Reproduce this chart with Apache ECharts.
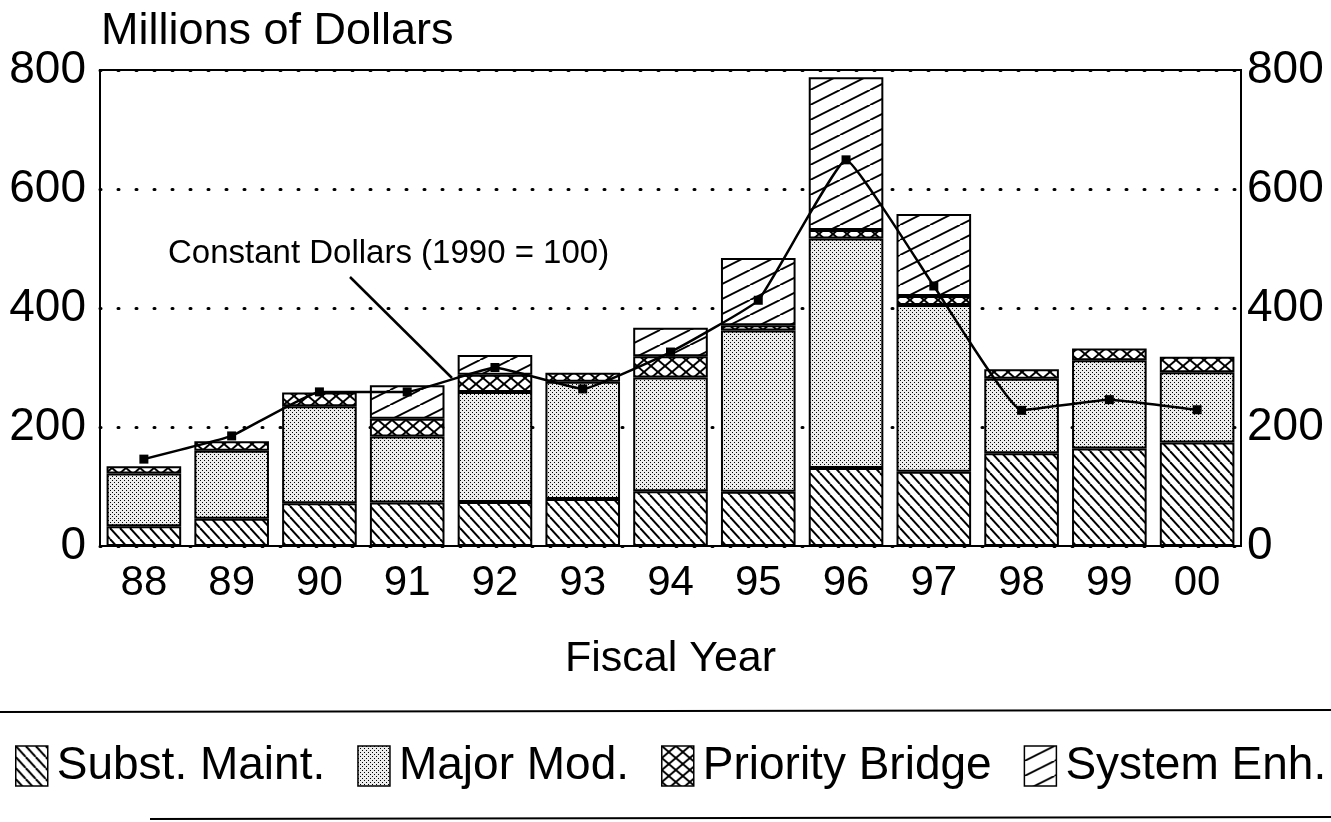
<!DOCTYPE html>
<html>
<head>
<meta charset="utf-8">
<script src="https://cdn.jsdelivr.net/npm/echarts@6/dist/echarts.min.js"></script>
<style>
  html, body { margin: 0; padding: 0; background: #fff; }
  #chart { width: 1331px; height: 822px; }
</style>
</head>
<body>
<div id="chart"></div>
<script>
// fiscal years
const years = ["88", "89", "90", "91", "92", "93", "94", "95", "96", "97", "98", "99", "00"];
// millions of dollars, stacked
const substMaint = [33, 46, 72, 73, 74, 79, 92, 91, 131, 125, 156, 164, 174];
const majorMod = [89, 114, 163, 111, 185, 197, 191, 271, 386, 280, 125, 148, 118];
const priorityBridge = [12, 16, 23, 30, 29, 15, 36, 9, 14, 15, 16, 20, 26];
const systemEnh = [null, null, null, 56, 33, null, 48, 113, 257, 138, null, null, null];
// constant dollars (1990 = 100)
const constantDollars = [146, 185, 259, 259, 300, 264, 326, 413, 649, 437, 228, 246, 229];
const yTicks = [0, 200, 400, 600, 800];

const FONT = "Liberation Sans";

// hatch patterns drawn on small canvases
function lines(w, h, dir, lw) {
  const c = document.createElement("canvas");
  c.width = w; c.height = h;
  const ctx = c.getContext("2d");
  ctx.fillStyle = "#fff";
  ctx.fillRect(0, 0, w, h);
  ctx.strokeStyle = "#000";
  ctx.lineWidth = lw;
  for (const d of dir) {
    for (let k = -1; k <= 1; k++) {
      ctx.beginPath();
      if (d === "back") {
        ctx.moveTo(k * w, 0);
        ctx.lineTo(k * w + w, h);
      } else {
        ctx.moveTo(k * w, h);
        ctx.lineTo(k * w + w, 0);
      }
      ctx.stroke();
    }
  }
  return c;
}

function dots() {
  const c = document.createElement("canvas");
  c.width = 4; c.height = 4;
  const ctx = c.getContext("2d");
  ctx.fillStyle = "#ececec";
  ctx.fillRect(0, 0, 4, 4);
  ctx.fillStyle = "#000";
  ctx.fillRect(0, 0, 1, 1);
  ctx.fillRect(2, 2, 1, 1);
  return c;
}

const pat = (canvas) => ({ image: canvas, repeat: "repeat" });
const substFill = pat(lines(10, 11, ["back"], 2));
const majorFill = pat(dots());
const priorityFill = pat(lines(14, 12, ["back", "fwd"], 2));
const systemFill = pat(lines(30, 15, ["fwd"], 2));

function barSeries(name, data, fill) {
  return {
    name: name,
    type: "bar",
    stack: "total",
    data: data,
    barCategoryGap: "15%",
    itemStyle: { color: fill, borderColor: "#000", borderWidth: 2 },
    emphasis: { disabled: true }
  };
}

const chart = echarts.init(document.getElementById("chart"));

chart.setOption({
  animation: false,
  backgroundColor: "#fff",
  textStyle: { fontFamily: FONT, color: "#000" },
  title: {
    text: "Millions of Dollars",
    left: 96,
    top: 4,
    textStyle: { fontFamily: FONT, fontSize: 45, fontWeight: "normal", color: "#000" }
  },
  grid: {
    left: 100,
    right: 90,
    top: 70,
    bottom: 276,
    show: true,
    borderColor: "#000",
    borderWidth: 2,
    backgroundColor: "transparent"
  },
  legend: {
    data: ["Subst. Maint.", "Major Mod.", "Priority Bridge", "System Enh."],
    left: 15,
    top: 743,
    width: 1316,
    padding: 0,
    icon: "rect",
    itemWidth: 32,
    itemHeight: 40,
    itemGap: 32,
    selectedMode: false,
    itemStyle: { borderColor: "#000", borderWidth: 1.5 },
    textStyle: { fontFamily: FONT, fontSize: 46, color: "#000", padding: [0, 0, 0, 4] }
  },
  xAxis: {
    type: "category",
    data: years,
    axisLine: { lineStyle: { color: "#000", width: 2 } },
    axisTick: { show: false },
    axisLabel: { fontFamily: FONT, fontSize: 42, color: "#000", margin: 16 },
    name: "Fiscal Year",
    nameLocation: "middle",
    nameGap: 92,
    nameTextStyle: { fontFamily: FONT, fontSize: 43, color: "#000" }
  },
  yAxis: [
    {
      type: "value",
      min: yTicks[0],
      max: yTicks[yTicks.length - 1],
      interval: yTicks[1] - yTicks[0],
      axisLine: { show: true, lineStyle: { color: "#000", width: 2 } },
      axisTick: { show: false },
      axisLabel: { fontFamily: FONT, fontSize: 46, color: "#000", margin: 14 },
      splitLine: {
        show: true,
        lineStyle: { color: "#000", width: 3, type: [1, 17], cap: "round" }
      }
    },
    {
      type: "value",
      position: "right",
      min: yTicks[0],
      max: yTicks[yTicks.length - 1],
      interval: yTicks[1] - yTicks[0],
      axisLine: { show: true, lineStyle: { color: "#000", width: 2 } },
      axisTick: { show: false },
      axisLabel: { fontFamily: FONT, fontSize: 46, color: "#000", margin: 6 },
      splitLine: { show: false }
    }
  ],
  series: [
    barSeries("Subst. Maint.", substMaint, substFill),
    barSeries("Major Mod.", majorMod, majorFill),
    barSeries("Priority Bridge", priorityBridge, priorityFill),
    barSeries("System Enh.", systemEnh, systemFill),
    {
      name: "Constant Dollars (1990 = 100)",
      type: "line",
      data: constantDollars,
      smooth: 0.1,
      symbol: "rect",
      symbolSize: 9,
      z: 5,
      lineStyle: { color: "#000", width: 2.5 },
      itemStyle: { color: "#000" },
      emphasis: { disabled: true }
    }
  ],
  graphic: [
    {
      type: "text",
      left: 168,
      top: 237,
      style: { text: "Constant Dollars (1990 = 100)", font: "33px " + FONT, fill: "#000" }
    },
    {
      type: "line",
      shape: { x1: 350, y1: 277, x2: 452, y2: 378 },
      style: { stroke: "#000", lineWidth: 2.5 }
    },
    {
      type: "line",
      shape: { x1: 0, y1: 712, x2: 1331, y2: 710 },
      style: { stroke: "#000", lineWidth: 2 }
    },
    {
      type: "line",
      shape: { x1: 150, y1: 819, x2: 1331, y2: 817 },
      style: { stroke: "#000", lineWidth: 2 }
    }
  ]
});
</script>
</body>
</html>
